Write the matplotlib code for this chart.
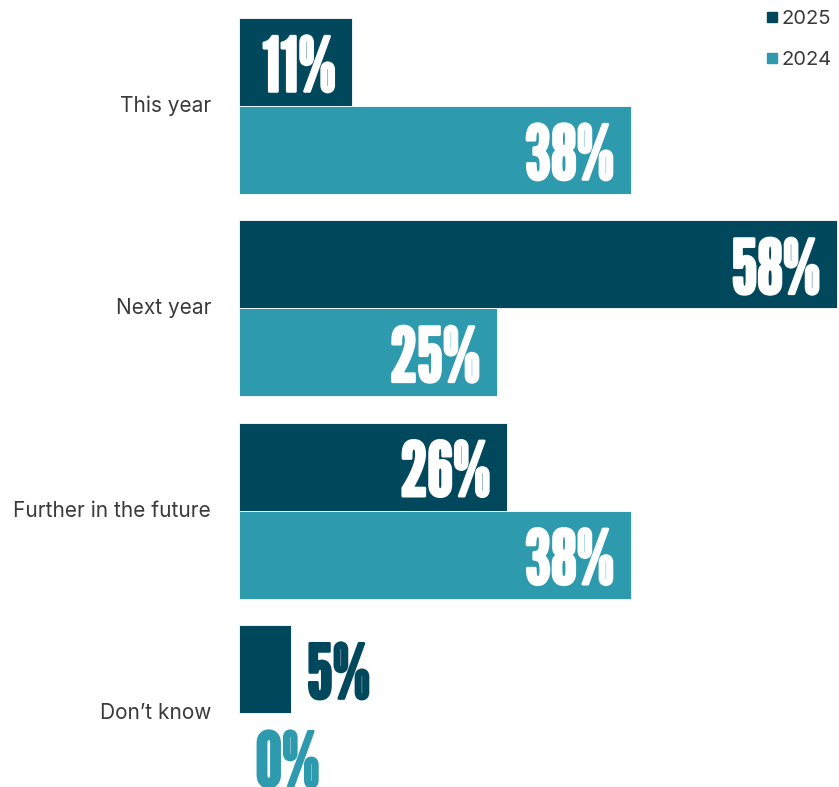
import matplotlib.pyplot as plt
import matplotlib.patheffects as pe
from matplotlib.lines import Line2D
import numpy as np

categories = ["This year", "Next year", "Further in the future", "Don\u2019t know"]
values_2025 = [11, 58, 26, 5]
values_2024 = [38, 25, 38, 0]
series_names = ["2025", "2024"]

dark = "#02485D"
light = "#2E9AAE"
text_grey = "#3a3a3a"
label_font = ["League Gothic", "Bebas Neue", "DejaVu Sans"]
body_font = ["Inter", "Roboto", "DejaVu Sans"]

fig = plt.figure(figsize=(8.39, 7.87), dpi=100)
ax = fig.add_axes([239 / 839, 0, 600 / 839, 1])

y = np.arange(len(categories))
h = 0.435
bars_a = ax.barh(y - h / 2, values_2025, height=h, color=dark, edgecolor="white", linewidth=0.6)
bars_b = ax.barh(y + h / 2, values_2024, height=h, color=light, edgecolor="white", linewidth=0.6)

ax.set_xlim(0, 58.2)
ax.set_ylim(3.365, -0.524)
ax.axis("off")

# value labels: inside the bar end, or just past it when the bar is short
pad = 1.6
base_off = 0.145  # baseline sits below the bar centre so the digits look centred
for bars, vals, col in [(bars_a, values_2025, dark), (bars_b, values_2024, light)]:
    for bar, v in zip(bars, vals):
        cy = bar.get_y() + bar.get_height() / 2 + base_off
        inside = v >= 10
        c = "white" if inside else col
        ax.text(v - pad if inside else v + pad, cy, f"{v}%",
                ha="right" if inside else "left", va="baseline", color=c,
                fontsize=54, family=label_font,
                path_effects=[pe.withStroke(linewidth=2, foreground=c)])

# category names to the left of each group
for yi, name in zip(y, categories):
    ax.text(-2.7, yi, name, ha="right", va="center", color=text_grey,
            fontsize=15, family=body_font)

handles = [Line2D([], [], marker="s", linestyle="none", markersize=7.5, color=c)
           for c in (dark, light)]
leg = fig.legend(handles, series_names, loc="upper right", bbox_to_anchor=(1.013, 1.01),
                 frameon=False, handlelength=0.5, handletextpad=0.25, labelspacing=1.1,
                 prop={"family": body_font, "size": 14.5})
for t in leg.get_texts():
    t.set_color(text_grey)

fig.savefig("out.png", dpi=100)
